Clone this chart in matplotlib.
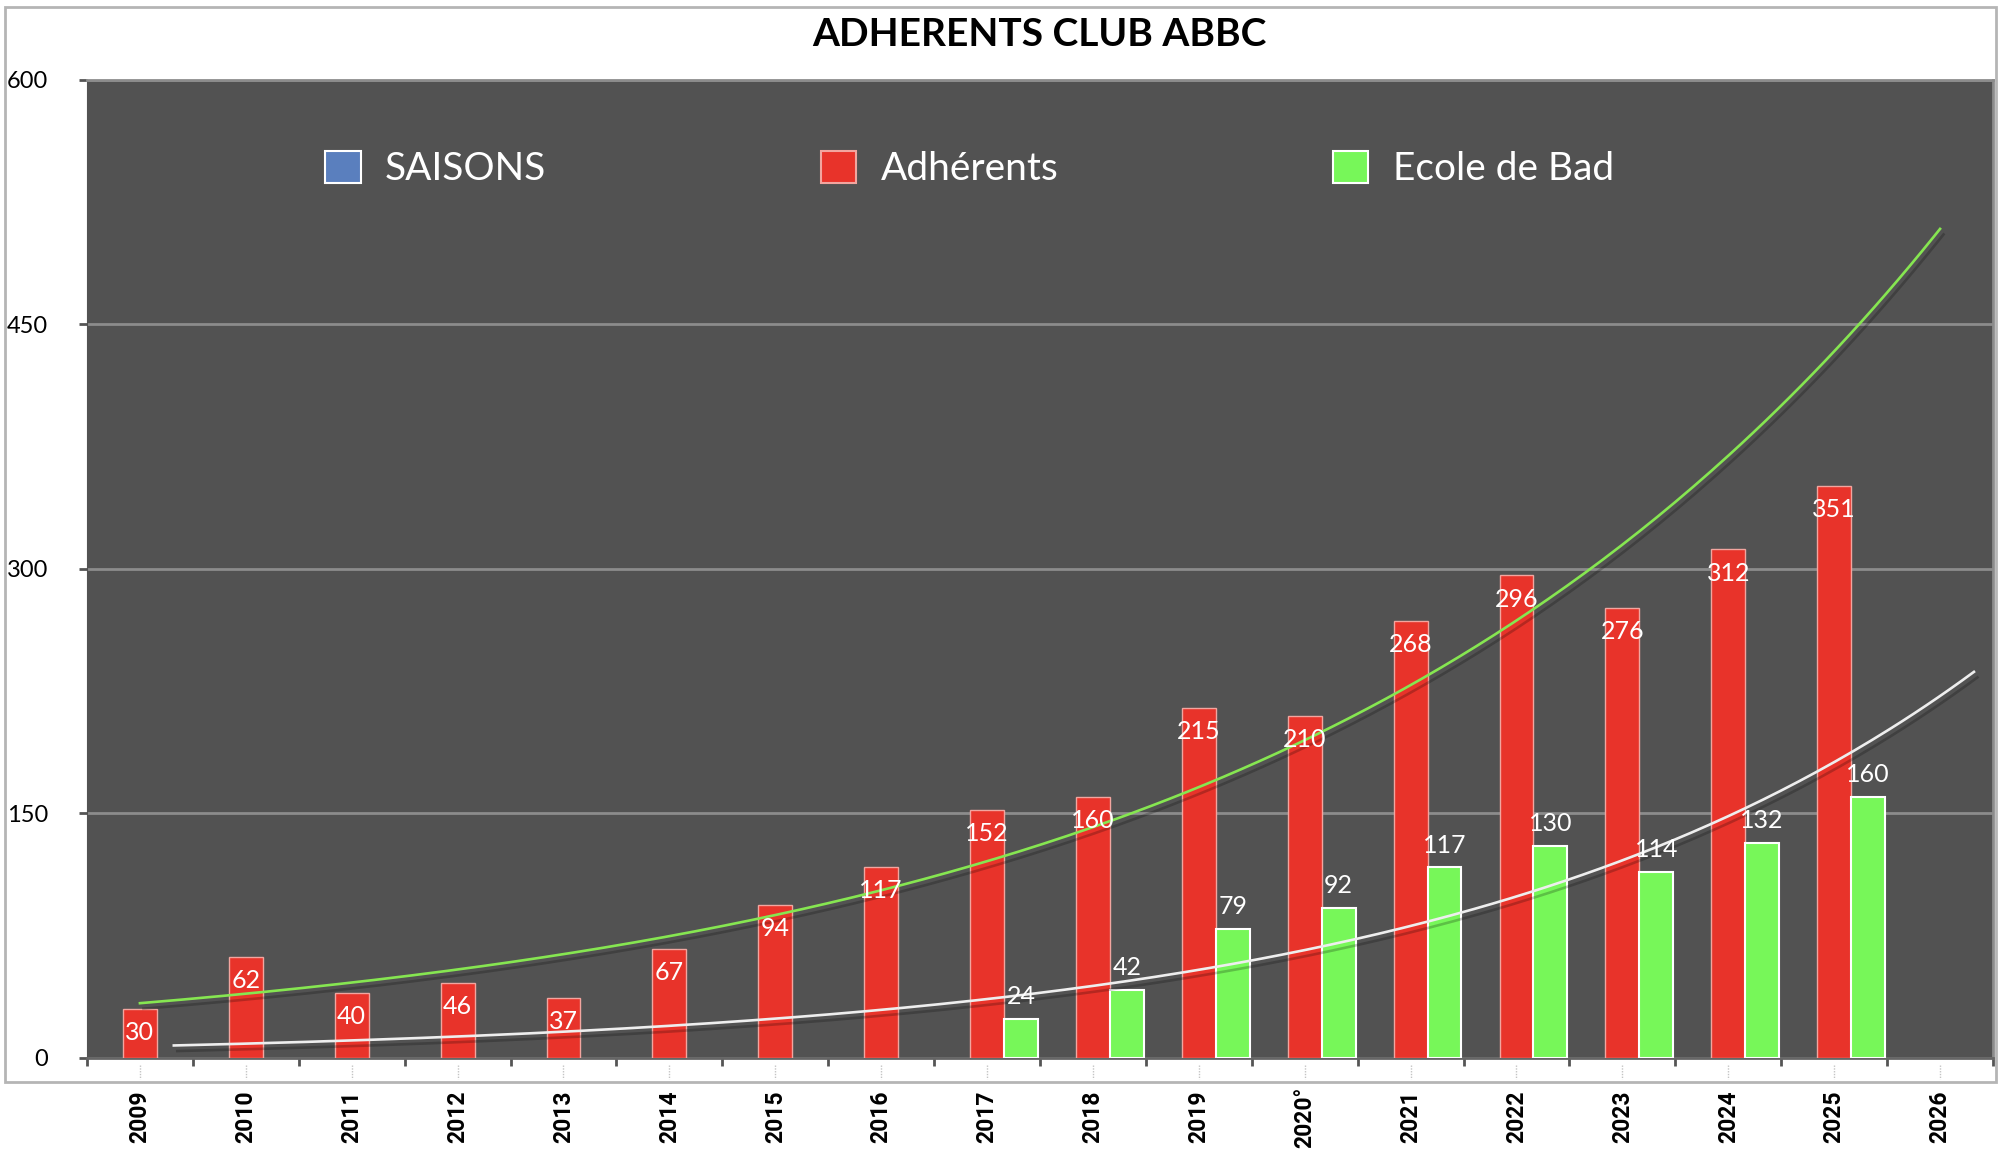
import numpy as np
import matplotlib
matplotlib.use("Agg")
import matplotlib.pyplot as plt
from matplotlib.patches import Rectangle, Patch
import matplotlib.patheffects as pe
import matplotlib.transforms as mtransforms

# ---------------- data ----------------
seasons = ['2009', '2010', '2011', '2012', '2013', '2014', '2015', '2016', '2017',
           '2018', '2019', '2020°', '2021', '2022', '2023', '2024', '2025', '2026']
adherents = [30, 62, 40, 46, 37, 67, 94, 117, 152, 160, 215, 210, 268, 296, 276, 312, 351, None]
ecole_de_bad = [None, None, None, None, None, None, None, None, 24, 42, 79, 92, 117, 130, 114, 132, 160, None]
y_ticks = [0, 150, 300, 450, 600]
series_names = ['SAISONS', 'Adhérents', 'Ecole de Bad']
title = 'ADHERENTS CLUB ABBC'

# ---------------- style ----------------
FONT = ['Lato', 'DejaVu Sans']
COND = ['Liberation Sans Narrow', 'Roboto', 'DejaVu Sans']
BG = '#525252'
C_BLUE = '#5A7FBE'
C_RED = '#E8332A'
C_GREEN = '#77F759'
C_TREND_RED = '#86E651'
C_TREND_GREEN = '#EEEEEE'
GRID = '#8C8C8C'

plt.rcParams['font.family'] = FONT

fig = plt.figure(figsize=(20, 11.54), dpi=100)
fig.patch.set_facecolor('white')
ax = fig.add_axes([0.0435, 0.0832, 0.953, 0.8475])
ax.set_facecolor(BG)

n = len(seasons)
x = np.arange(n)
w = 0.32

red_idx = np.array([i for i, v in enumerate(adherents) if v is not None])
red_val = np.array([adherents[i] for i in red_idx], dtype=float)
grn_idx = np.array([i for i, v in enumerate(ecole_de_bad) if v is not None])
grn_val = np.array([ecole_de_bad[i] for i in grn_idx], dtype=float)

ax.bar(red_idx, red_val, width=w, color=C_RED, edgecolor='#F2A59F', linewidth=1.0, zorder=3)
ax.bar(grn_idx + w, grn_val, width=w, color=C_GREEN, edgecolor='white', linewidth=1.5, zorder=3)

# exponential trend lines (fitted to the series), drawn smoothly over all seasons
shadow = [pe.SimpleLineShadow(offset=(2.5, -4), shadow_color='black', alpha=0.22), pe.Normal()]
xs = np.linspace(0, n - 1, 300)
b1, a1 = np.polyfit(red_idx, np.log(red_val), 1)
ax.plot(xs, np.exp(a1 + b1 * xs), color=C_TREND_RED, lw=1.9, zorder=4, path_effects=shadow)
b2, a2 = np.polyfit(grn_idx, np.log(grn_val), 1)
ax.plot(xs + w, np.exp(a2 + b2 * xs), color=C_TREND_GREEN, lw=1.9, zorder=4, path_effects=shadow)

# value labels
for i, v in zip(red_idx, red_val):
    ax.annotate(f'{int(v)}', (i, v), xytext=(0, -17), textcoords='offset points',
                ha='center', va='center', color='white', fontsize=18, zorder=6)
for i, v in zip(grn_idx, grn_val):
    ax.annotate(f'{int(v)}', (i + w, v), xytext=(0, 16), textcoords='offset points',
                ha='center', va='center', color='white', fontsize=18, zorder=6)

# axes
ax.set_xlim(-0.5, n - 0.5)
ax.set_ylim(0, 600)
ax.set_yticks(y_ticks)
ax.set_yticklabels([str(t) for t in y_ticks], fontsize=17)
ax.yaxis.grid(True, color=GRID, lw=2, zorder=0)
ax.set_axisbelow(True)
ax.tick_params(axis='y', length=6, width=2, color='#555555', pad=22, labelcolor='black')

ax.set_xticks(x)
ax.set_xticklabels(seasons, rotation=90, fontsize=16.5, fontweight='bold', family=COND, va='center')
ax.set_xticks(np.arange(-0.5, n, 1), minor=True)
ax.tick_params(axis='x', which='major', length=0, pad=42.5)
ax.tick_params(axis='x', which='minor', length=6, width=2, color='#555555', direction='out')

# faint dotted marks at the category centres below the axis
trans = mtransforms.blended_transform_factory(ax.transData, ax.transAxes)
ax.vlines(x, -0.0075, -0.0215, transform=trans, colors='#C4C4C4', linewidth=1,
          linestyles=(0, (1, 1)), clip_on=False)

for s in ['top', 'right']:
    ax.spines[s].set_color(GRID)
    ax.spines[s].set_linewidth(2)
ax.spines['left'].set_color(BG)
ax.spines['bottom'].set_color('#666666')
ax.spines['bottom'].set_linewidth(2)

# legend
handles = [Patch(facecolor=C_BLUE, edgecolor='white', linewidth=1.5),
           Patch(facecolor=C_RED, edgecolor='#F2A59F', linewidth=1.5),
           Patch(facecolor=C_GREEN, edgecolor='white', linewidth=1.5)]
leg = ax.legend(handles, series_names, loc='center', bbox_to_anchor=(0.463, 0.909), ncol=3,
                frameon=False, fontsize=28, handlelength=0.92, handleheight=0.92,
                handletextpad=0.63, columnspacing=7.05, labelcolor='white')

# title and outer frame
fig.text(0.5195, 0.9697, title, ha='center', va='center', fontsize=28, fontweight='bold', color='black')
fig.patches.append(Rectangle((0.0025, 0.0624), 0.9955, 0.9315, transform=fig.transFigure,
                             fill=False, edgecolor='#B5B5B5', linewidth=2, zorder=0))

fig.savefig('out.png', dpi=100)
